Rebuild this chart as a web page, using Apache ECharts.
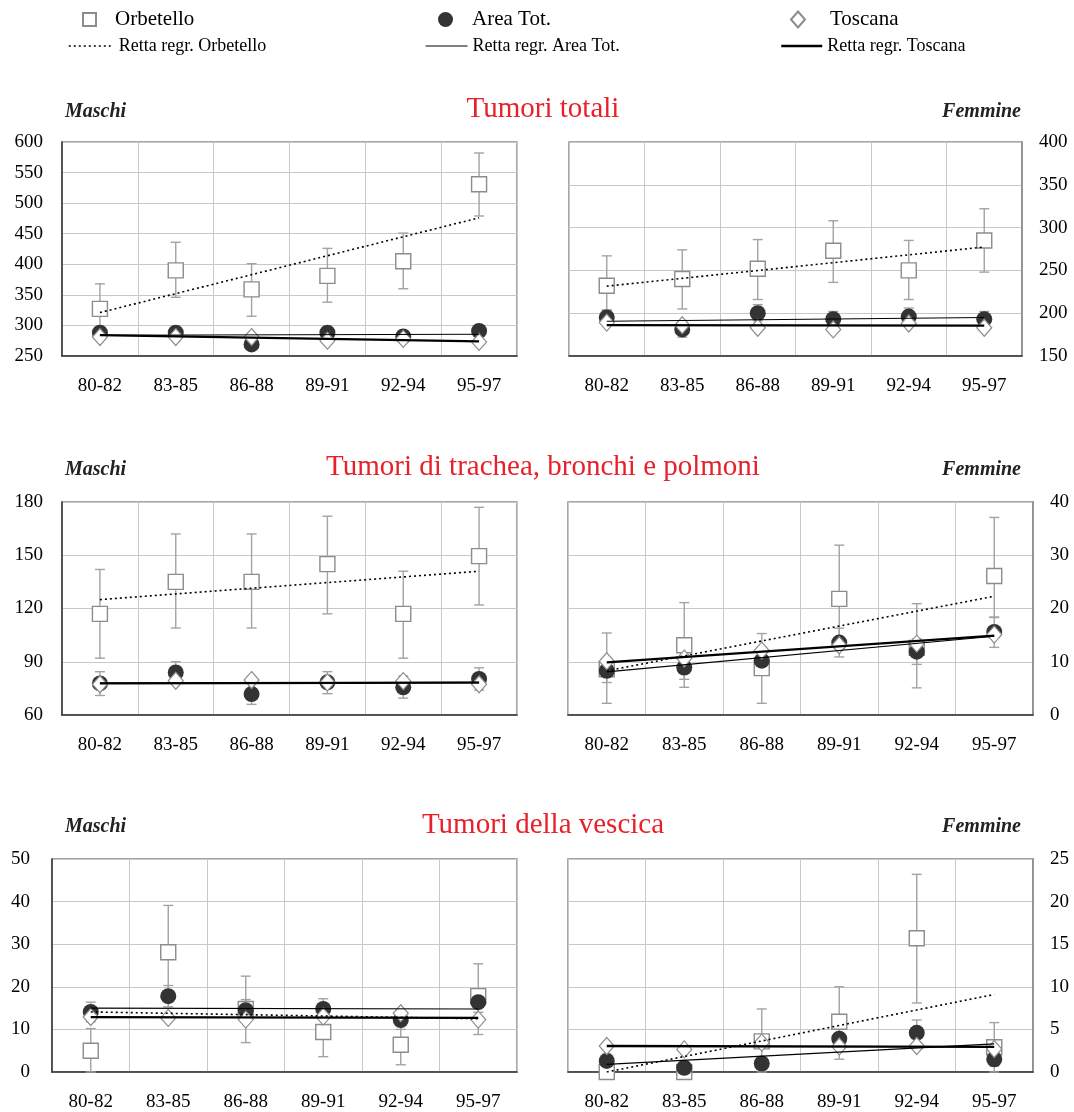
<!DOCTYPE html>
<html><head><meta charset="utf-8">
<script src="https://cdn.jsdelivr.net/npm/echarts@6/dist/echarts.min.js"></script>
<style>html,body{margin:0;padding:0;background:#fff}#c{width:1074px;height:1112px}</style>
</head><body><div id="c"></div>
<script>
const categories = ['80-82','83-85','86-88','89-91','92-94','95-97'];

// Tumori totali - Maschi
const orbTotM   = [327, 390, 359, 381, 405, 531];
const orbTotMLo = [286, 346, 315, 338, 360, 479];
const orbTotMHi = [368, 436, 401, 426, 451, 582];
const areaTotM   = [288, 288, 269, 288, 282, 291];
const areaTotMLo = [282, 282, 263, 282, 276, 285];
const areaTotMHi = [294, 294, 275, 294, 288, 297];
const tosTotM   = [281, 281, 281, 275, 278, 273];
const regOrbTotM = [321, 476], regAreaTotM = [284, 285.5], regTosTotM = [284, 274];

// Tumori totali - Femmine
const orbTotF   = [232, 240, 252, 273, 250, 285];
const orbTotFLo = [203, 205, 216, 236, 216, 248];
const orbTotFHi = [267, 274, 286, 308, 285, 322];
const areaTotF   = [195, 181, 200, 193, 196, 193];
const areaTotFLo = [187, 172, 191, 184, 187, 184];
const areaTotFHi = [204, 190, 210, 202, 206, 202];
const tosTotF   = [189, 186, 183, 181, 188, 183];
const regOrbTotF = [231.6, 277.3], regAreaTotF = [190.6, 195], regTosTotF = [186, 185.5];

// Trachea, bronchi e polmoni - Maschi
const orbTraM   = [117, 135, 135, 145, 117, 149.5];
const orbTraMLo = [92, 109, 109, 117, 92, 122];
const orbTraMHi = [142, 162, 162, 172, 141, 177];
const areaTraM   = [77.8, 84, 71.8, 78.4, 75.6, 80.3];
const areaTraMLo = [71, 78, 66, 72, 69.5, 74];
const areaTraMHi = [84.4, 90, 78, 84.4, 82, 86.6];
const tosTraM   = [77.3, 79.3, 79.7, 78.4, 79.1, 77.3];
const regOrbTraM = [125, 141], regAreaTraM = [78, 78.4], regTosTraM = [77.8, 78.2];

// Trachea, bronchi e polmoni - Femmine
const orbTraF   = [8.6, 13.1, 8.8, 21.8, 12.6, 26.1];
const orbTraFLo = [2.2, 5.2, 2.2, 12.5, 5.1, 18.3];
const orbTraFHi = [15.4, 21.1, 15.3, 31.9, 20.9, 37.1];
const areaTraF   = [8.3, 8.9, 10.2, 13.6, 11.9, 15.6];
const areaTraFLo = [6.1, 6.7, 7.9, 10.9, 9.5, 12.7];
const areaTraFHi = [10.6, 11.1, 12.5, 16.3, 14.3, 18.4];
const tosTraF   = [10.1, 10.6, 12.1, 13.1, 13.4, 15.1];
const regOrbTraF = [8.3, 22.3], regAreaTraF = [8.1, 14.8], regTosTraF = [9.9, 14.9];

// Vescica - Maschi
const orbVesM   = [5, 28.1, 14.8, 9.4, 6.4, 17.8];
const orbVesMLo = [0, 17, 6.9, 3.6, 1.7, 8.8];
const orbVesMHi = [10.2, 39.1, 22.5, 15.5, 11.5, 25.4];
const areaVesM   = [14.1, 17.8, 14.5, 14.8, 12.2, 16.4];
const areaVesMLo = [11.8, 15.3, 12, 12.5, 10, 14];
const areaVesMHi = [16.4, 20.3, 17, 17.2, 14.5, 18.8];
const tosVesM   = [12.9, 12.7, 12.3, 13, 13.8, 12.3];
const regOrbVesM = [14.1, 12.5], regAreaVesM = [15, 14.8], regTosVesM = [12.9, 12.7];

// Vescica - Femmine
const orbVesF   = [0, 0, 3.6, 5.9, 15.7, 2.9];
const orbVesFLo = [0, 0, 0, 1.5, 8.1, 0];
const orbVesFHi = [0, 0, 7.4, 10, 23.2, 5.8];
const areaVesF   = [1.3, 0.5, 1, 3.9, 4.6, 1.5];
const areaVesFLo = [0.5, 0, 0.3, 2.8, 3.1, 0.7];
const areaVesFHi = [2.1, 1.0, 1.7, 5.0, 6.1, 2.3];
const tosVesF   = [3.05, 2.65, 3.45, 3.0, 3.05, 2.7];
const regOrbVesF = [0, 9.1], regAreaVesF = [0.9, 3.3], regTosVesF = [3.05, 2.95];

// y-axis scales: [min, max, interval]
const yScaleTotM = [250, 600, 50];
const yScaleTotF = [150, 400, 50];
const yScaleTraM = [60, 180, 30];
const yScaleTraF = [0, 40, 10];
const yScaleVesM = [0, 50, 10];
const yScaleVesF = [0, 25, 5];

const rowTitles = ['Tumori totali', 'Tumori di trachea, bronchi e polmoni', 'Tumori della vescica'];
const sexLabels = ['Maschi', 'Femmine'];

const panels = [
  {orb: orbTotM, orbLo: orbTotMLo, orbHi: orbTotMHi, area: areaTotM, areaLo: areaTotMLo, areaHi: areaTotMHi, tos: tosTotM, rO: regOrbTotM, rA: regAreaTotM, rT: regTosTotM, ys: yScaleTotM},
  {orb: orbTotF, orbLo: orbTotFLo, orbHi: orbTotFHi, area: areaTotF, areaLo: areaTotFLo, areaHi: areaTotFHi, tos: tosTotF, rO: regOrbTotF, rA: regAreaTotF, rT: regTosTotF, ys: yScaleTotF},
  {orb: orbTraM, orbLo: orbTraMLo, orbHi: orbTraMHi, area: areaTraM, areaLo: areaTraMLo, areaHi: areaTraMHi, tos: tosTraM, rO: regOrbTraM, rA: regAreaTraM, rT: regTosTraM, ys: yScaleTraM},
  {orb: orbTraF, orbLo: orbTraFLo, orbHi: orbTraFHi, area: areaTraF, areaLo: areaTraFLo, areaHi: areaTraFHi, tos: tosTraF, rO: regOrbTraF, rA: regAreaTraF, rT: regTosTraF, ys: yScaleTraF},
  {orb: orbVesM, orbLo: orbVesMLo, orbHi: orbVesMHi, area: areaVesM, areaLo: areaVesMLo, areaHi: areaVesMHi, tos: tosVesM, rO: regOrbVesM, rA: regAreaVesM, rT: regTosVesM, ys: yScaleVesM},
  {orb: orbVesF, orbLo: orbVesFLo, orbHi: orbVesFHi, area: areaVesF, areaLo: areaVesFLo, areaHi: areaVesFHi, tos: tosVesF, rO: regOrbVesF, rA: regAreaVesF, rT: regTosVesF, ys: yScaleVesF}
];

// layout
const gridBoxes = [
  {left: 62, top: 142, width: 455, height: 214},
  {left: 569, top: 142, width: 453, height: 214},
  {left: 62, top: 502, width: 455, height: 213},
  {left: 568, top: 502, width: 465, height: 213},
  {left: 52, top: 859, width: 465, height: 214},
  {left: 568, top: 859, width: 465, height: 214}
];
const FONT = 'Liberation Serif';

const chart = echarts.init(document.getElementById('c'), null, {renderer: 'canvas'});

const grids = [], xAxes = [], yAxes = [], series = [];
panels.forEach((p, i) => {
  const isRight = i % 2 === 1;
  grids.push(Object.assign({show: true, borderColor: '#8a8a8a', borderWidth: 1.5, backgroundColor: '#fff'}, gridBoxes[i]));
  xAxes.push({
    type: 'category', data: categories, gridIndex: i, boundaryGap: true,
    axisLine: {show: true, lineStyle: {color: '#333', width: 1.5}},
    axisTick: {show: false},
    axisLabel: {fontFamily: FONT, fontSize: 19, color: '#000', margin: 21},
    splitLine: {show: true, lineStyle: {color: '#c8c8c8', width: 1}}
  });
  yAxes.push({
    type: 'value', gridIndex: i, position: isRight ? 'right' : 'left',
    min: p.ys[0], max: p.ys[1], interval: p.ys[2],
    axisLine: {show: true, lineStyle: {color: isRight ? '#8a8a8a' : '#333', width: 1.5}},
    axisTick: {show: false},
    axisLabel: {fontFamily: FONT, fontSize: 19, color: '#000', margin: isRight ? 17 : (i === 4 ? 22 : 19)},
    splitLine: {show: true, lineStyle: {color: '#c8c8c8', width: 1}}
  });

  const errBar = (name, lo, hi) => ({
    type: 'custom', name: name, xAxisIndex: i, yAxisIndex: i, z: 2, silent: true,
    data: lo.map((l, k) => [k, l, hi[k]]).filter(d => d[2] > d[1]),
    encode: {x: 0, y: [1, 2]},
    renderItem: function (params, api) {
      const x = api.value(0), a = api.coord([x, api.value(1)]), b = api.coord([x, api.value(2)]);
      const w = 5, st = {stroke: '#a3a3a3', lineWidth: 1.4};
      return {type: 'group', children: [
        {type: 'line', shape: {x1: a[0], y1: a[1], x2: b[0], y2: b[1]}, style: st},
        {type: 'line', shape: {x1: a[0] - w, y1: a[1], x2: a[0] + w, y2: a[1]}, style: st},
        {type: 'line', shape: {x1: b[0] - w, y1: b[1], x2: b[0] + w, y2: b[1]}, style: st}
      ]};
    }
  });
  series.push(errBar('errOrb' + i, p.orbLo, p.orbHi));
  series.push(errBar('errArea' + i, p.areaLo, p.areaHi));

  series.push({
    type: 'scatter', name: 'Orbetello', xAxisIndex: i, yAxisIndex: i, z: 3, clip: false,
    symbol: 'rect', symbolSize: 15, data: p.orb,
    itemStyle: {color: '#fff', borderColor: '#8c8c8c', borderWidth: 1.4, opacity: 1}
  });
  series.push({
    type: 'scatter', name: 'Area Tot.', xAxisIndex: i, yAxisIndex: i, z: 4, clip: false,
    symbol: 'circle', symbolSize: 16, data: p.area,
    itemStyle: {color: '#333', opacity: 1}
  });
  series.push({
    type: 'scatter', name: 'Toscana', xAxisIndex: i, yAxisIndex: i, z: 5, clip: false,
    symbol: 'diamond', symbolSize: [15, 17], data: p.tos,
    itemStyle: {color: '#fff', borderColor: '#8c8c8c', borderWidth: 1.2, opacity: 1}
  });
  const last = categories.length - 1;
  const regLine = (name, vals, ls) => ({
    type: 'line', name: name, xAxisIndex: i, yAxisIndex: i, z: 6, symbol: 'none', showSymbol: false, silent: true,
    data: [[0, vals[0]], [last, vals[1]]],
    itemStyle: {color: '#000'},
    lineStyle: ls
  });
  series.push(regLine('Retta regr. Orbetello', p.rO, {color: '#000', width: 1.6, type: [2, 3]}));
  series.push(regLine('Retta regr. Area Tot.', p.rA, {color: '#000', width: 1.1}));
  series.push(regLine('Retta regr. Toscana', p.rT, {color: '#000', width: 2.3}));
});

const titleRowTops = [95, 453, 811];
const sexRowTops = [102, 460, 817];
const titles = [];
rowTitles.forEach((t, r) => {
  titles.push({text: t, left: 543, top: titleRowTops[r], textAlign: 'center', padding: 0,
    textStyle: {fontFamily: FONT, fontSize: 29, fontWeight: 'normal', color: '#e8202a'}});
  titles.push({text: sexLabels[0], left: 65, top: sexRowTops[r], padding: 0,
    textStyle: {fontFamily: FONT, fontSize: 20, fontStyle: 'italic', fontWeight: 'bold', color: '#222'}});
  titles.push({text: sexLabels[1], right: 53, top: sexRowTops[r], padding: 0,
    textStyle: {fontFamily: FONT, fontSize: 20, fontStyle: 'italic', fontWeight: 'bold', color: '#222'}});
});

const legTxt1 = {fontFamily: FONT, fontSize: 21, color: '#000'};
const legTxt2 = {fontFamily: FONT, fontSize: 18, color: '#000'};
const lineLegend = {itemStyle: {opacity: 0, borderWidth: 0}, textStyle: legTxt2, top: 37, itemHeight: 14};
const legends = [
  {data: ['Orbetello'], left: 82, top: 9, itemWidth: 13, itemHeight: 13, textStyle: Object.assign({padding: [0, 0, 0, 14]}, legTxt1)},
  {data: ['Area Tot.'], left: 438, top: 9, itemWidth: 15, itemHeight: 15, textStyle: Object.assign({padding: [0, 0, 0, 14]}, legTxt1)},
  {data: ['Toscana'], left: 790, top: 9, itemWidth: 14, itemHeight: 16, textStyle: Object.assign({padding: [0, 0, 0, 20]}, legTxt1)},
  Object.assign({data: ['Retta regr. Orbetello'], left: 68, itemWidth: 45, lineStyle: {color: '#000', width: 1.6, type: [2, 3]}}, lineLegend),
  Object.assign({data: ['Retta regr. Area Tot.'], left: 425, itemWidth: 42, lineStyle: {color: '#000', width: 1.1}}, lineLegend),
  Object.assign({data: ['Retta regr. Toscana'], left: 780, itemWidth: 41, lineStyle: {color: '#000', width: 2.5}}, lineLegend)
].map(l => Object.assign({padding: 0, selectedMode: false, itemGap: 0}, l));

chart.setOption({
  animation: false,
  backgroundColor: '#fff',
  title: titles,
  legend: legends,
  grid: grids,
  xAxis: xAxes,
  yAxis: yAxes,
  series: series
});
</script></body></html>
